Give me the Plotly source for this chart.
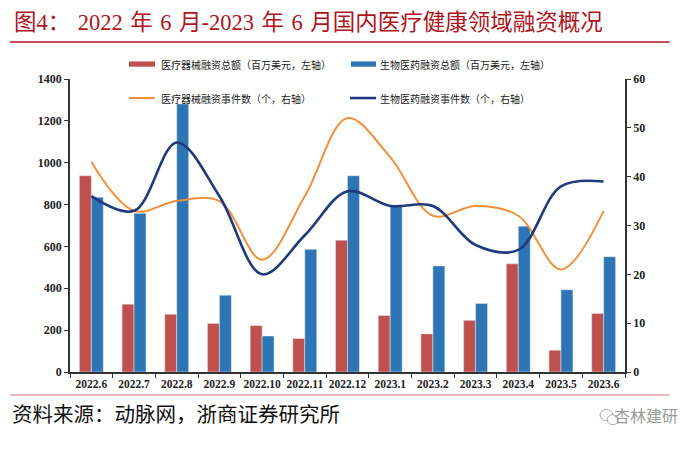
import plotly.graph_objects as go

categories = ["2022.6", "2022.7", "2022.8", "2022.9", "2022.10", "2022.11", "2022.12",
              "2023.1", "2023.2", "2023.3", "2023.4", "2023.5", "2023.6"]
device_amount = [938, 324, 276, 232, 222, 160, 630, 270, 182, 247, 517, 104, 280]
pharma_amount = [835, 758, 1281, 367, 172, 586, 938, 798, 507, 327, 697, 393, 551]
device_events = [43, 33, 35, 35, 23, 36, 52, 44, 32, 34, 32, 21, 33]
pharma_events = [36, 33, 47, 36, 20, 28, 37, 34, 34, 26, 25, 38, 39]

left_ticks = [0, 200, 400, 600, 800, 1000, 1200, 1400]
right_ticks = [0, 10, 20, 30, 40, 50, 60]

names = ["医疗器械融资总额（百万美元，左轴）", "生物医药融资总额（百万美元，左轴）",
         "医疗器械融资事件数（个，右轴）", "生物医药融资事件数（个，右轴）"]
colors = ["#C0504D", "#2E75B6", "#F0903C", "#1F3A7A"]

serif = "Liberation Serif, Noto Sans CJK SC"

fig = go.Figure()
fig.add_trace(go.Bar(x=categories, y=device_amount, name=names[0], marker_color=colors[0], showlegend=False))
fig.add_trace(go.Bar(x=categories, y=pharma_amount, name=names[1], marker_color=colors[1], showlegend=False))
fig.add_trace(go.Scatter(x=categories, y=device_events, name=names[2], yaxis="y2", mode="lines", showlegend=False,
                         line=dict(color=colors[2], width=2, shape="spline", smoothing=1.0)))
fig.add_trace(go.Scatter(x=categories, y=pharma_events, name=names[3], yaxis="y2", mode="lines", showlegend=False,
                         line=dict(color=colors[3], width=2.6, shape="spline", smoothing=1.0)))

tickfont = dict(family=serif, size=12, color="#222", weight="bold")
fig.update_layout(
    width=700, height=451,
    margin=dict(l=62, r=83, t=71, b=87, autoexpand=False),
    paper_bgcolor="white", plot_bgcolor="white",
    barmode="group", bargap=0.44, bargroupgap=0,
    showlegend=False,
    xaxis=dict(type="category", showline=True, linecolor="#333", linewidth=1.5,
               ticks="outside", tickson="boundaries", ticklen=4, tickcolor="#333",
               tickangle=0, automargin=False,
               tickfont=dict(family=serif, size=11.5, color="#222", weight="bold"),
               showgrid=False),
    yaxis=dict(range=[0, 1400], tickvals=left_ticks, showline=True, linecolor="#333", linewidth=1.5,
               ticks="outside", ticklen=4, tickcolor="#333", showgrid=False, zeroline=False,
               automargin=False, tickfont=tickfont),
    yaxis2=dict(range=[0, 60], tickvals=right_ticks, overlaying="y", side="right",
                showline=True, linecolor="#333", linewidth=1.5, ticks="outside", ticklen=4,
                tickcolor="#333", showgrid=False, zeroline=False, automargin=False,
                tickfont=tickfont),
)

# manual legend (2 x 2)
leg_pos = [(0.1063, 0.1532, 0.1604, 1.051), (0.5063, 0.5514, 0.5550, 1.051),
           (0.1063, 0.1532, 0.1604, 0.935), (0.5045, 0.5514, 0.5550, 0.935)]
for i, (x0, x1, xt, yc) in enumerate(leg_pos):
    if i < 2:
        fig.add_shape(type="rect", xref="paper", yref="paper", x0=x0, x1=x1, y0=yc - 0.009, y1=yc + 0.009,
                      fillcolor=colors[i], line=dict(width=0))
    else:
        fig.add_shape(type="line", xref="paper", yref="paper", x0=x0, x1=x1, y0=yc, y1=yc,
                      line=dict(color=colors[i], width=2 if i == 2 else 2.6))
    fig.add_annotation(text=names[i], xref="paper", yref="paper", x=xt, y=yc, xanchor="left",
                       yanchor="middle", showarrow=False,
                       font=dict(size=10, family="Noto Sans CJK SC", color="#222"))

sp = "\u2004"
title = "图4：" + sp + "2022" + sp + "年" + sp + "6" + sp + "月-2023" + sp + "年" + sp + "6" + sp + "月国内医疗健康领域融资概况"
fig.add_annotation(text=title,
                   xref="paper", yref="paper", x=-0.1045, y=1.1945, xanchor="left", yanchor="middle",
                   showarrow=False, font=dict(size=22.5, color="#AE1420", family=serif))
fig.add_annotation(text="资料来源：动脉网，浙商证券研究所",
                   xref="paper", yref="paper", x=-0.108, y=-0.1468, xanchor="left", yanchor="middle",
                   showarrow=False, font=dict(size=20.5, color="#111", family=serif))
fig.add_annotation(text="杏林建研",
                   xref="paper", yref="paper", x=1.099, y=-0.1468, xanchor="right", yanchor="middle",
                   showarrow=False, font=dict(size=16, color="#9A9A9A", family="Noto Sans CJK SC"))
# small chat-bubble icon next to watermark
fig.add_shape(type="circle", xref="paper", yref="paper", x0=0.955, x1=0.978, y0=-0.166, y1=-0.128,
              line=dict(color="#A8A8A8", width=1))
fig.add_shape(type="circle", xref="paper", yref="paper", x0=0.968, x1=0.988, y0=-0.180, y1=-0.146,
              line=dict(color="#A8A8A8", width=1), fillcolor="white")

fig.add_shape(type="line", xref="paper", yref="paper", x0=-0.108, x1=1.08, y0=1.126, y1=1.126,
              line=dict(color="#AE1420", width=1.5))
fig.add_shape(type="line", xref="paper", yref="paper", x0=-0.108, x1=1.08, y0=-0.0785, y1=-0.0785,
              line=dict(color="#E07080", width=1.2))

fig.write_html("out.html")
